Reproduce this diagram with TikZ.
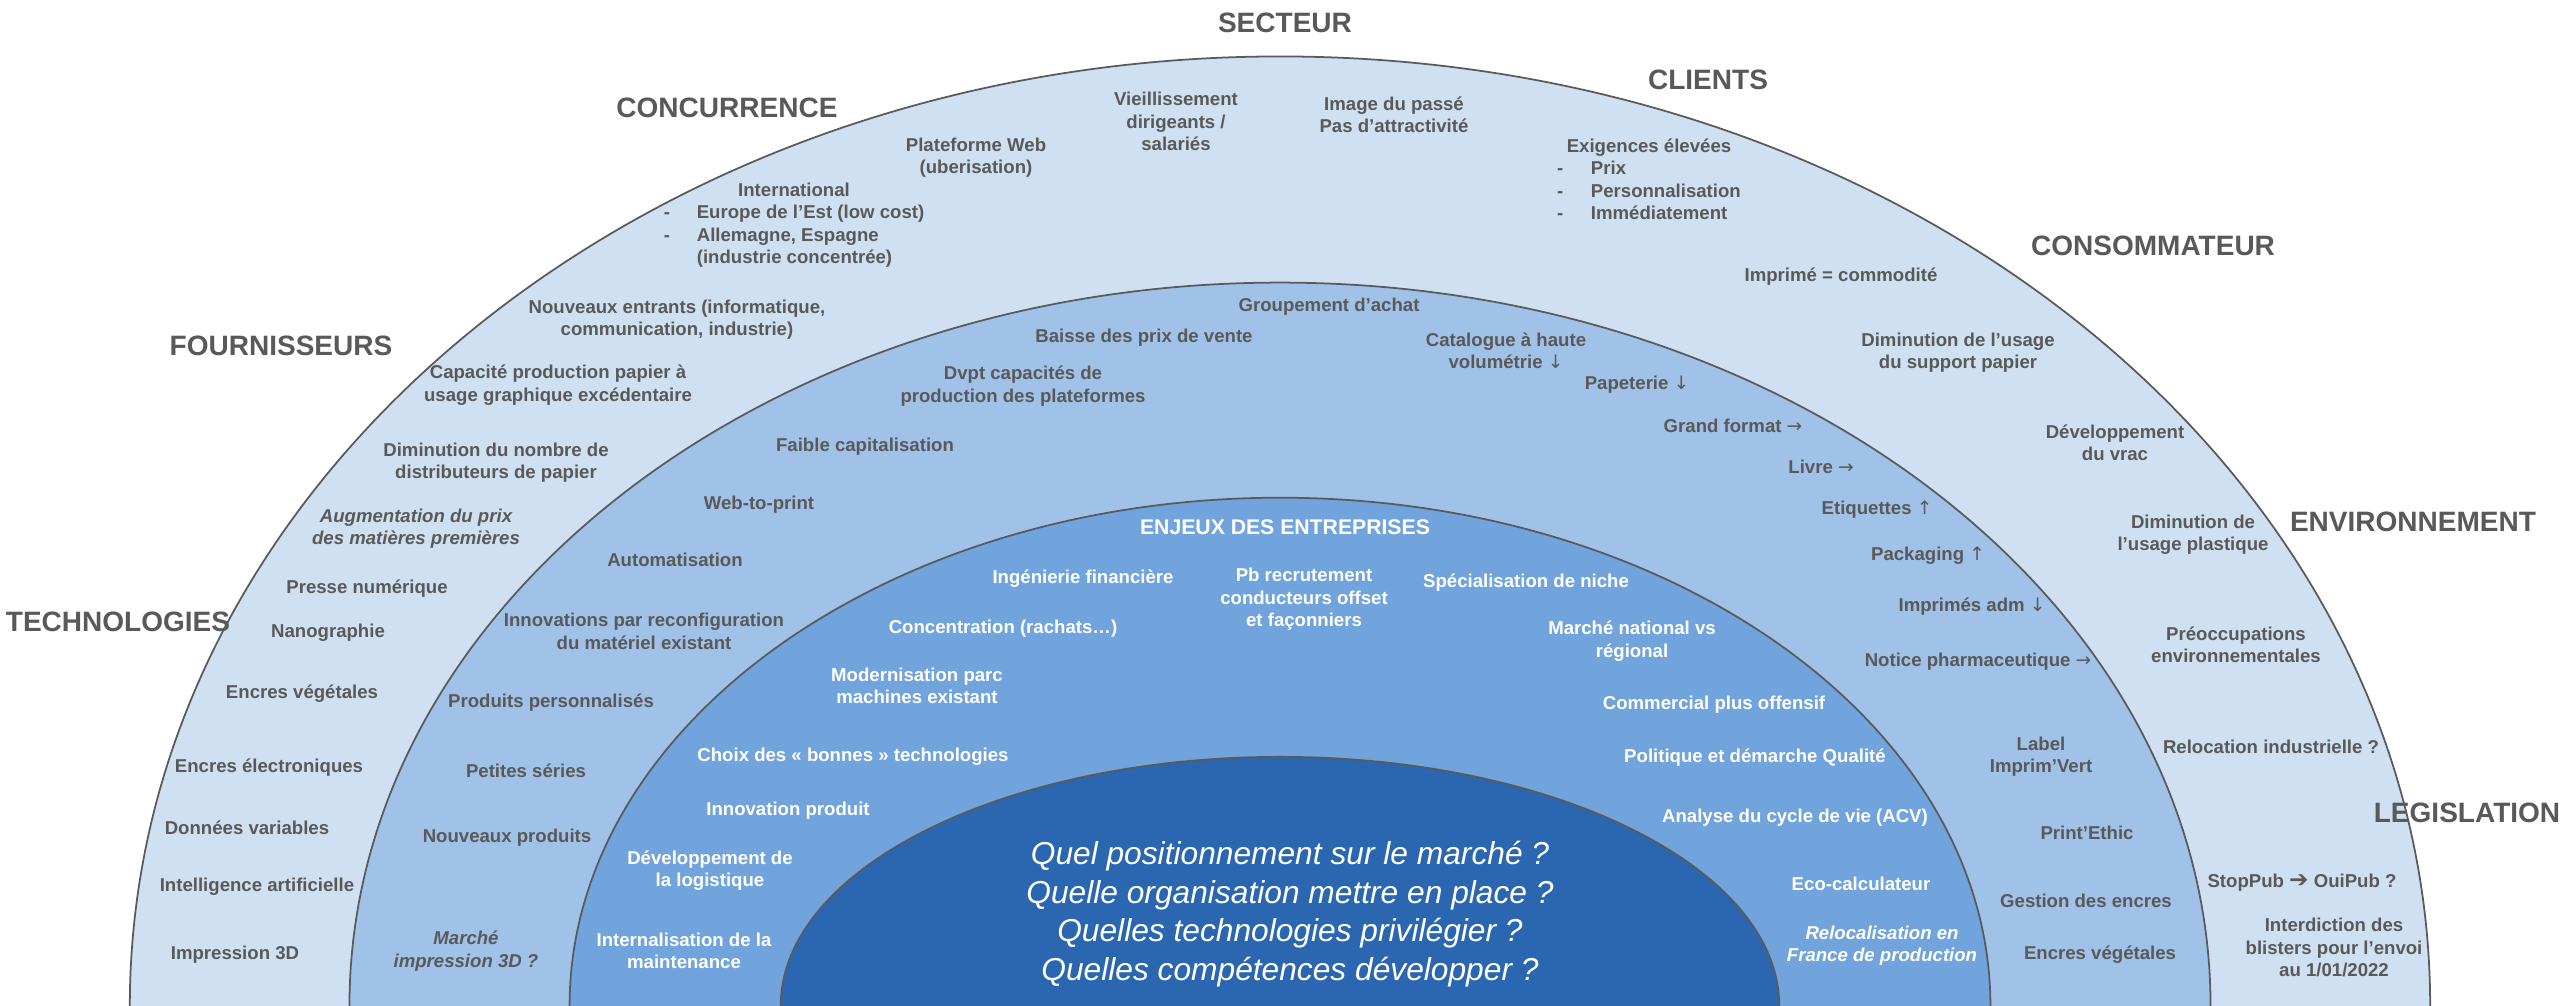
\documentclass[tikz,border=0pt]{standalone}
\usepackage{fontspec}
\setmainfont{Liberation Sans}
\newfontfamily\symfont{DejaVu Sans}
\newcommand{\arr}[1]{{\symfont\mdseries #1}}

\definecolor{ringA}{RGB}{208,224,243}
\definecolor{ringB}{RGB}{160,194,232}
\definecolor{ringC}{RGB}{113,163,220}
\definecolor{ringD}{RGB}{43,103,176}
\definecolor{txtgrey}{RGB}{89,89,89}
\definecolor{edgegrey}{RGB}{90,90,90}

\tikzset{
  ring/.style={draw=edgegrey, line width=0.5pt},
  hdr/.style={font=\fontsize{7.97}{9}\selectfont\bfseries, text=txtgrey, inner sep=0pt},
  txt/.style={font=\fontsize{5.29}{6.35}\selectfont\bfseries, text=txtgrey, align=center, inner sep=0pt},
  itxt/.style={txt, font=\fontsize{5.29}{6.35}\selectfont\bfseries\itshape},
  wtxt/.style={txt, text=white},
  witxt/.style={itxt, text=white},
  enjeux/.style={font=\fontsize{6.03}{7}\selectfont\bfseries, text=white, inner sep=0pt},
  qtxt/.style={font=\fontsize{9.02}{10.95}\selectfont\itshape, text=white, align=center, inner sep=0pt}
}

\begin{document}
\begin{tikzpicture}[x=0.01cm, y=-0.01cm]
\useasboundingbox (0,0) rectangle (2560,1006);

% concentric half-ellipses, centred on the bottom edge
\begin{scope}
  \clip (0,0) rectangle (2560,1006);
  \coordinate (c) at (1280,1006);
  \draw[ring, fill=ringA] (c) ellipse [x radius=11.495cm, y radius=9.49cm];
  \draw[ring, fill=ringB] (c) ellipse [x radius=9.30cm, y radius=7.23cm];
  \draw[ring, fill=ringC] (c) ellipse [x radius=7.10cm, y radius=5.08cm];
  \draw[ring, fill=ringD] (c) ellipse [x radius=4.99cm, y radius=2.49cm];
\end{scope}

% outer headings
\node[hdr] (secteur) at (1285,23) {SECTEUR};
\node[hdr] (concurrence) at (727,108) {CONCURRENCE};
\node[hdr] (clients) at (1708,80) {CLIENTS};
\node[hdr] (fournisseurs) at (281,346) {FOURNISSEURS};
\node[hdr] (consommateur) at (2153,246) {CONSOMMATEUR};
\node[hdr] (technologies) at (118,622) {TECHNOLOGIES};
\node[hdr] (environnement) at (2413,522) {ENVIRONNEMENT};
\node[hdr] (legislation) at (2467,813) {LEGISLATION};

% outer ring
\node[txt] (intl) at (794,225.5) {\begin{tabular}{@{}p{9.4pt}@{}l@{}}
  \multicolumn{2}{@{}c@{}}{International}\\
  - & Europe de l’Est (low cost)\\
  - & Allemagne, Espagne\\
    & (industrie concentrée)
\end{tabular}};
\node[txt] (plateforme) at (976,157.5) {Plateforme Web\\(uberisation)};
\node[txt] (vieil) at (1176,121.5) {Vieillissement\\dirigeants /\\salariés};
\node[txt] (image) at (1394,114.5) {Image du passé\\Pas d’attractivité};
\node[txt] (exig) at (1649,181.5) {\begin{tabular}{@{}p{9.6pt}@{}l@{}}
  \multicolumn{2}{@{}c@{}}{Exigences élevées}\\
  - & Prix\\
  - & Personnalisation\\
  - & Immédiatement
\end{tabular}};
\node[txt] (commodite) at (1841,277) {Imprimé = commodité};
\node[txt] (entrants) at (677,320) {Nouveaux entrants (informatique,\\communication, industrie)};
\node[txt] (capacite) at (558,385) {Capacité production papier à\\usage graphique excédentaire};
\node[txt] (distrib) at (496,462.5) {Diminution du nombre de\\distributeurs de papier};
\node[itxt] (matieres) at (416,529) {Augmentation du prix\\des matières premières};
\node[txt] (presse) at (367,589) {Presse numérique};
\node[txt] (nano) at (328,633) {Nanographie};
\node[txt] (vegA) at (302,694) {Encres végétales};
\node[txt] (electro) at (269,768) {Encres électroniques};
\node[txt] (donnees) at (247,828) {Données variables};
\node[txt] (ia) at (257,887) {Intelligence artificielle};
\node[txt] (impr3d) at (235,955) {Impression 3D};
\node[txt] (papier) at (1958,353) {Diminution de l’usage\\du support papier};
\node[txt] (vrac) at (2115,443) {Développement\\du vrac};
\node[txt] (plastique) at (2193,535) {Diminution de\\l’usage plastique};
\node[txt] (preocc) at (2236,645) {Préoccupations\\environnementales};
\node[txt] (reloc) at (2271,747) {Relocation industrielle ?};
\node[txt] (stoppub) at (2302,883) {StopPub {\symfont\bfseries\fontsize{6.6}{6.6}\selectfont ➔} OuiPub ?};
\node[txt] (blisters) at (2334,947.5) {Interdiction des\\blisters pour l’envoi\\au 1/01/2022};

% second ring
\node[txt] (groupement) at (1329,307) {Groupement d’achat};
\node[txt] (baisse) at (1144,338) {Baisse des prix de vente};
\node[txt] (catalogue) at (1506,351) {Catalogue à haute\\volumétrie \arr{↓}};
\node[txt] (papeterie) at (1637,385) {Papeterie \arr{↓}};
\node[txt] (dvpt) at (1023,386) {Dvpt capacités de\\production des plateformes};
\node[txt] (grandformat) at (1733,426) {Grand format \arr{→}};
\node[txt] (faible) at (865,447) {Faible capitalisation};
\node[txt] (livre) at (1821,467) {Livre \arr{→}};
\node[txt] (web) at (759,505) {Web-to-print};
\node[txt] (etiquettes) at (1877,510) {Etiquettes \arr{↑}};
\node[txt] (packaging) at (1928,556) {Packaging \arr{↑}};
\node[txt] (automat) at (675,560) {Automatisation};
\node[txt] (adm) at (1972,607) {Imprimés adm \arr{↓}};
\node[txt] (reconf) at (644,631.5) {Innovations par reconfiguration\\du matériel existant};
\node[txt] (notice) at (1978,662) {Notice pharmaceutique \arr{→}};
\node[txt] (perso) at (551,703) {Produits personnalisés};
\node[txt] (label) at (2041,756.5) {Label\\Imprim’Vert};
\node[txt] (petites) at (526,771) {Petites séries};
\node[txt] (printethic) at (2087,833) {Print’Ethic};
\node[txt] (nouveaux) at (507,838) {Nouveaux produits};
\node[txt] (gestion) at (2086,901) {Gestion des encres};
\node[itxt] (marche3d) at (466,951) {Marché\\impression 3D ?};
\node[txt] (vegB) at (2100,955) {Encres végétales};

% third ring
\node[enjeux] (enjeux) at (1285,527) {ENJEUX DES ENTREPRISES};
\node[wtxt] (ingenierie) at (1083,579) {Ingénierie financière};
\node[wtxt] (recrut) at (1304,599.5) {Pb recrutement\\conducteurs offset\\et façonniers};
\node[wtxt] (niche) at (1526,583) {Spécialisation de niche};
\node[wtxt] (concentr) at (1003,629) {Concentration (rachats…)};
\node[wtxt] (national) at (1632,641) {Marché national vs\\régional};
\node[wtxt] (modern) at (917,686) {Modernisation parc\\machines existant};
\node[wtxt] (commercial) at (1714,705) {Commercial plus offensif};
\node[wtxt] (choix) at (853,757) {Choix des « bonnes » technologies};
\node[wtxt] (qualite) at (1755,758) {Politique et démarche Qualité};
\node[wtxt] (innov) at (788,811) {Innovation produit};
\node[wtxt] (acv) at (1795,818) {Analyse du cycle de vie (ACV)};
\node[wtxt] (logist) at (710,870.5) {Développement de\\la logistique};
\node[wtxt] (ecocalc) at (1861,884) {Eco-calculateur};
\node[wtxt] (maint) at (684,951) {Internalisation de la\\maintenance};
\node[witxt] (relocal) at (1882,946) {Relocalisation en\\France de production};

% core questions
\node[qtxt] (questions) at (1290,914) {Quel positionnement sur le marché ?\\Quelle organisation mettre en place ?\\Quelles technologies privilégier ?\\Quelles compétences développer ?};
\end{tikzpicture}
\end{document}
